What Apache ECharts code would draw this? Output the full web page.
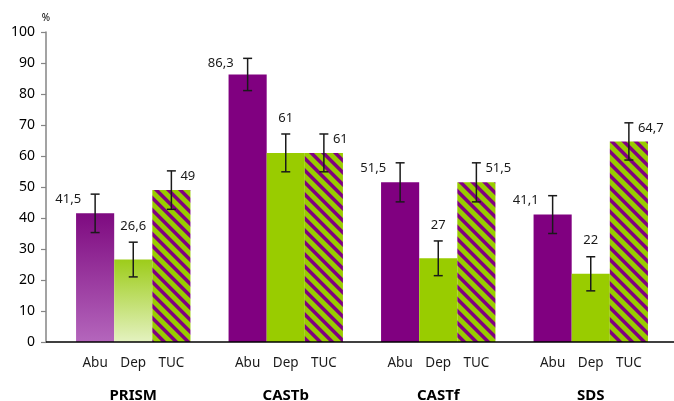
<!DOCTYPE html>
<html>
<head>
<meta charset="utf-8">
<script src="https://cdn.jsdelivr.net/npm/echarts@6/dist/echarts.min.js"></script>
<style>
  html, body { margin: 0; padding: 0; background: #fff; }
  #chart { width: 674px; height: 401px; }
</style>
</head>
<body>
<div id="chart"></div>
<script>
// Study groups and the three measures shown in each
const groups = ['PRISM', 'CASTb', 'CASTf', 'SDS'];
const measures = ['Abu', 'Dep', 'TUC'];

// Percentages per measure, one value per group
const abuValues = [41.5, 86.3, 51.5, 41.1];
const depValues = [26.6, 61, 27, 22];
const tucValues = [49, 61, 51.5, 64.7];

// Half-width of the error bars per measure
const abuErrors = [6.2, 5.2, 6.3, 6.1];
const depErrors = [5.6, 6.1, 5.6, 5.5];
const tucErrors = [6.2, 6.1, 6.3, 6.0];

const yTicks = { min: 0, max: 100, step: 10 };

const PURPLE = '#800080';
const GREEN = '#99cc00';

// Diagonal purple/green hatch used for the TUC bars
function makeStripes() {
  const size = 12, purpleWidth = 5, ss = 4;
  const cv = document.createElement('canvas');
  cv.width = size; cv.height = size;
  const ctx = cv.getContext('2d');
  const img = ctx.createImageData(size, size);
  const p = [128, 0, 128], g = [153, 204, 0];
  for (let y = 0; y < size; y++) {
    for (let x = 0; x < size; x++) {
      let cover = 0;
      for (let sy = 0; sy < ss; sy++) {
        for (let sx = 0; sx < ss; sx++) {
          const px = x + (sx + 0.5) / ss, py = y + (sy + 0.5) / ss;
          const t = (((px - py) % size) + size) % size;
          if (t < purpleWidth) cover++;
        }
      }
      const a = cover / (ss * ss);
      const i = (y * size + x) * 4;
      for (let k = 0; k < 3; k++) img.data[i + k] = Math.round(p[k] * a + g[k] * (1 - a));
      img.data[i + 3] = 255;
    }
  }
  ctx.putImageData(img, 0, 0);
  return cv;
}
const stripeFill = { image: makeStripes(), repeat: 'repeat' };

function vGrad(top, bottom) {
  return new echarts.graphic.LinearGradient(0, 0, 0, 1, [
    { offset: 0, color: top },
    { offset: 1, color: bottom }
  ]);
}

const fmt = v => String(v).replace('.', ',');
const FONT = '"Noto Sans", "DejaVu Sans", sans-serif';

// Error bar, value label and measure name drawn for every bar of a slot
function makeOverlay(slot) {
  return function (params, api) {
    const gi = api.value(0), v = api.value(1), e = api.value(2);
    const band = api.size([1, 0])[0];
    const barW = band * 0.75 / 3;
    const cx = api.coord([gi, v])[0] + (slot - 1) * barW;
    const yTop = api.coord([gi, v + e])[1];
    const yBot = api.coord([gi, v - e])[1];
    const y0 = api.coord([gi, 0])[1];
    const cap = 4.5;
    const lineStyle = { stroke: '#1a1a1a', lineWidth: 1.5 };
    let label;
    if (slot === 0) {
      label = { x: cx - 14, y: yTop + 5, align: 'right' };
    } else if (slot === 1) {
      label = { x: cx, y: yTop - 16, align: 'center' };
    } else {
      label = { x: cx + 9, y: yTop + 5, align: 'left' };
    }
    return {
      type: 'group',
      children: [
        { type: 'line', shape: { x1: cx, y1: yTop, x2: cx, y2: yBot }, style: lineStyle },
        { type: 'line', shape: { x1: cx - cap, y1: yTop, x2: cx + cap, y2: yTop }, style: lineStyle },
        { type: 'line', shape: { x1: cx - cap, y1: yBot, x2: cx + cap, y2: yBot }, style: lineStyle },
        {
          type: 'text',
          style: {
            text: fmt(v), x: label.x, y: label.y, align: label.align, verticalAlign: 'middle',
            fill: '#1a1a1a', font: '13px ' + FONT
          }
        },
        {
          type: 'text',
          style: {
            text: measures[slot], x: cx, y: y0 + 21, align: 'center', verticalAlign: 'middle',
            fill: '#1a1a1a', font: '13.5px ' + FONT
          }
        }
      ]
    };
  };
}

function overlayData(values, errors) {
  return values.map((v, i) => [i, v, errors[i]]);
}

const abuData = abuValues.map((v, i) => i === 0
  ? { value: v, itemStyle: { color: vGrad('#7e0a80', '#b466bc') } }
  : v);
const depData = depValues.map((v, i) => i === 0
  ? { value: v, itemStyle: { color: vGrad('#9dcc1a', '#e4f2c0') } }
  : v);

const chart = echarts.init(document.getElementById('chart'), null, { renderer: 'canvas' });

chart.setOption({
  animation: false,
  backgroundColor: '#ffffff',
  grid: { left: 57, right: 7, top: 32, bottom: 59, containLabel: false, outerBoundsMode: 'none' },
  xAxis: {
    type: 'category',
    data: groups,
    axisLine: { show: false },
    axisTick: { show: false },
    axisLabel: {
      margin: 46, color: '#000', fontWeight: 'bold', fontSize: 15, fontFamily: FONT
    },
    splitLine: { show: false }
  },
  yAxis: {
    type: 'value',
    min: yTicks.min, max: yTicks.max, interval: yTicks.step,
    offset: 11,
    name: '%',
    nameLocation: 'end',
    nameGap: 9,
    nameTextStyle: { fontSize: 10, color: '#000', fontFamily: FONT },
    axisLine: { show: true, lineStyle: { color: '#858585', width: 1.5 } },
    axisTick: { show: true, length: 5, lineStyle: { color: '#858585', width: 1.2 } },
    axisLabel: { margin: 11, fontSize: 14, color: '#000', fontFamily: FONT },
    splitLine: { show: false }
  },
  series: [
    { name: 'Abu', type: 'bar', data: abuData, barGap: 0, barCategoryGap: '25%', itemStyle: { color: PURPLE } },
    { name: 'Dep', type: 'bar', data: depData, barGap: 0, barCategoryGap: '25%', itemStyle: { color: GREEN } },
    { name: 'TUC', type: 'bar', data: tucValues, barGap: 0, barCategoryGap: '25%', itemStyle: { color: stripeFill } },
    { type: 'custom', renderItem: makeOverlay(0), data: overlayData(abuValues, abuErrors), encode: { x: 0, y: 1 }, z: 5 },
    { type: 'custom', renderItem: makeOverlay(1), data: overlayData(depValues, depErrors), encode: { x: 0, y: 1 }, z: 5 },
    { type: 'custom', renderItem: makeOverlay(2), data: overlayData(tucValues, tucErrors), encode: { x: 0, y: 1 }, z: 5 }
  ]
});

// Baseline runs from the value axis to the right edge of the chart
const baseY = chart.convertToPixel({ yAxisIndex: 0 }, 0);
chart.setOption({
  graphic: [{
    type: 'line', z: 10,
    shape: { x1: 46, y1: baseY, x2: 674, y2: baseY },
    style: { stroke: '#000', lineWidth: 1.5 }
  }]
});
</script>
</body>
</html>
